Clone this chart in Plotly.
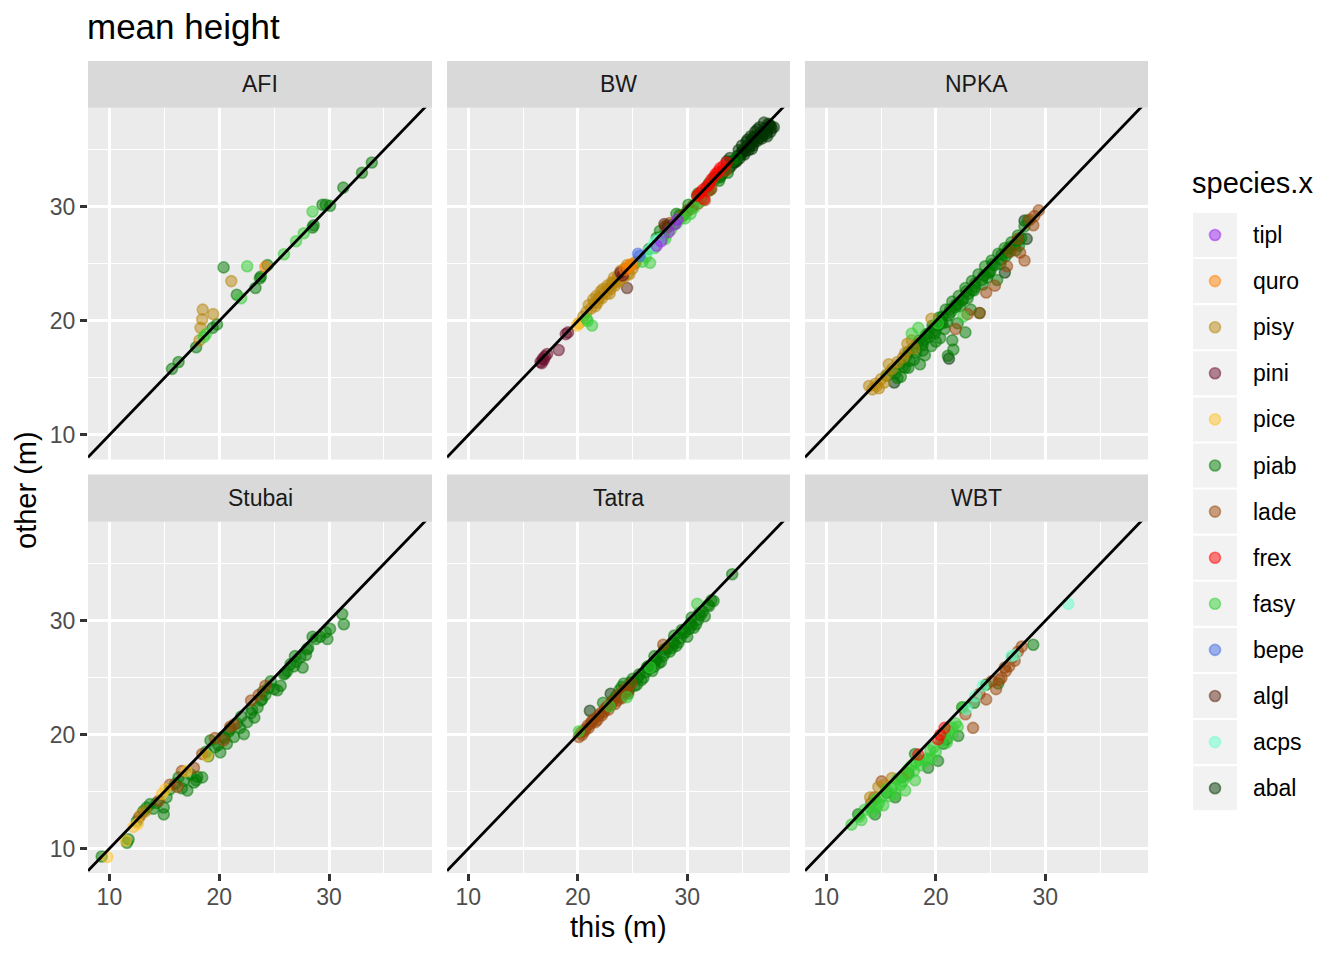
import plotly.graph_objects as go

# ---------------- data ----------------
species_order = ["tipl", "quro", "pisy", "pini", "pice", "piab", "lade",
                 "frex", "fasy", "bepe", "algl", "acps", "abal"]
species_colors = ["#9A20F0", "#FF7F00", "#B8860B", "#6B0F2B", "#FFC125", "#007A00",
                  "#9A4508", "#FF0000", "#32CD32", "#4169E1", "#5E2612", "#66FFCC", "#003300"]
draw_order = ["abal", "piab", "lade", "algl", "pisy", "pice", "fasy", "acps",
              "pini", "quro", "bepe", "tipl", "frex"]
panel_names = ["AFI", "BW", "NPKA", "Stubai", "Tatra", "WBT"]
tick_vals = [10, 20, 30]
X_RANGE = [8.05, 39.38]
Y_RANGE = [7.85, 38.71]

# AFI
afi_piab_x = [33.9, 33.0, 31.3, 29.4, 29.7, 30.1, 28.6, 28.5, 24.4, 23.7, 23.8, 23.3, 21.6, 20.4, 19.8, 19.4, 17.9, 16.3, 15.7]
afi_piab_y = [33.9, 33.0, 31.7, 30.2, 30.2, 30.1, 28.4, 28.2, 24.9, 23.75, 23.9, 22.9, 22.3, 24.7, 19.7, 19.4, 17.7, 16.4, 15.8]
afi_fasy_x = [28.5, 27.7, 27.0, 25.9, 22.55, 22.0, 18.8, 18.6]
afi_fasy_y = [29.6, 27.7, 27.0, 25.85, 24.8, 22.0, 18.85, 18.6]
afi_pisy_x = [21.1, 18.5, 19.45, 18.45, 18.3, 18.2]
afi_pisy_y = [23.5, 21.0, 20.6, 20.15, 19.4, 18.3]
afi_quro_x = [24.2]
afi_quro_y = [24.75]

# BW
bw_abal_x = [32.5, 33.0, 33.4, 33.8, 34.1, 34.4, 34.6, 34.9, 35.1, 35.3, 35.5, 35.7, 35.9, 36.1, 36.3,
             36.5, 36.7, 36.9, 37.1, 37.3, 37.5, 37.7, 37.9, 35.0, 35.4, 35.8, 36.2, 36.6, 37.0, 37.4,
             33.6, 34.0, 34.5, 34.8, 35.2, 35.6, 36.0, 36.4, 36.8, 37.2, 37.6, 36.0, 35.5,
             33.2, 34.3, 35.0, 35.9, 36.8, 37.6, 34.7, 36.4, 37.3, 33.9]
bw_abal_y = [32.6, 32.7, 33.2, 33.4, 34.0, 34.1, 34.5, 34.6, 35.0, 34.9, 35.4, 35.3, 35.8, 35.7, 36.2,
             36.0, 36.5, 36.4, 36.9, 36.7, 37.2, 36.9, 37.0, 35.4, 35.7, 36.2, 36.6, 37.0, 37.4, 37.3,
             34.0, 33.6, 34.0, 34.3, 34.6, 35.0, 35.4, 35.8, 36.2, 36.4, 36.6, 36.1, 35.9,
             32.9, 33.9, 34.8, 35.1, 36.0, 37.1, 35.0, 36.8, 36.2, 34.3]
bw_piab_x = [26.5, 27.2, 27.8, 28.3, 28.8, 29.3, 29.7, 30.1, 30.5, 30.9, 31.3, 31.7, 32.1, 32.5, 32.9,
             33.3, 33.7, 34.1, 29.0, 30.0, 31.0, 32.0, 33.0, 28.0, 27.5, 34.5]
bw_piab_y = [26.3, 27.3, 27.5, 28.4, 28.5, 29.3, 29.3, 30.2, 30.1, 31.0, 30.8, 31.7, 31.5, 32.4, 32.3,
             33.3, 33.0, 34.0, 29.4, 29.7, 31.2, 32.1, 32.6, 28.3, 27.9, 34.3]
bw_fasy_x = [20.8, 21.3, 20.9, 26.6, 27.8, 29.05, 29.4, 30.3, 28.5, 25.9, 27.0, 28.0, 29.8, 30.6, 31.2, 26.2]
bw_fasy_y = [20.2, 19.6, 20.0, 25.1, 27.3, 28.6, 29.0, 29.4, 28.0, 25.2, 26.4, 27.2, 29.0, 29.9, 30.5, 25.6]
bw_pisy_x = [20.1, 20.8, 21.2, 21.5, 21.8, 22.0, 22.2, 22.4, 22.6, 22.8, 23.0, 23.2, 23.4, 23.6, 23.8,
             24.0, 24.2, 24.4, 24.6, 24.8, 25.0, 25.2, 21.4, 22.1, 22.7, 23.3, 23.9, 24.5, 21.7, 23.1,
             21.0, 21.6, 22.3, 22.9, 23.5, 24.1, 24.7, 25.3, 20.5, 21.9, 23.7, 24.3]
bw_pisy_y = [19.8, 20.8, 21.1, 21.6, 21.6, 22.1, 22.0, 22.5, 22.4, 22.9, 22.8, 23.3, 23.1, 23.7, 23.5,
             24.1, 23.8, 24.5, 24.2, 24.9, 24.6, 25.0, 21.9, 22.6, 23.1, 23.8, 24.4, 24.9, 22.2, 23.4,
             21.4, 21.3, 22.8, 22.4, 23.4, 23.9, 24.1, 25.2, 20.4, 22.0, 24.0, 24.6]
bw_pini_x = [16.6, 16.8, 17.0, 17.2, 16.9, 16.7, 18.9, 19.1, 18.25, 23.9, 24.1]
bw_pini_y = [16.4, 16.7, 16.9, 17.1, 16.6, 16.3, 18.85, 19.0, 17.45, 24.25, 24.0]
bw_quro_x = [24.6, 24.9, 24.3]
bw_quro_y = [24.7, 25.0, 24.5]
bw_pice_x = [20.1, 19.9]
bw_pice_y = [19.8, 19.6]
bw_bepe_x = [25.65, 25.5]
bw_bepe_y = [25.7, 25.9]
bw_acps_x = [26.9, 27.5, 27.1, 26.5]
bw_acps_y = [26.7, 27.2, 27.0, 26.2]
bw_tipl_x = [27.2, 28.9, 29.1, 27.6, 28.3]
bw_tipl_y = [26.6, 28.5, 28.9, 27.0, 27.8]
bw_lade_x = [28.0, 28.4, 30.1, 31.6, 32.4, 32.9, 33.5, 29.5, 31.0, 31.9, 32.2, 30.5]
bw_lade_y = [28.3, 28.6, 29.7, 30.6, 32.6, 33.0, 33.2, 29.2, 30.3, 31.4, 31.6, 30.0]
bw_algl_x = [24.5, 27.9, 28.2]
bw_algl_y = [22.9, 28.5, 28.2]
bw_frex_x = [31.2, 31.8, 33.3, 32.8, 31.5, 32.2, 30.9, 31.4, 32.0, 32.6, 33.0, 33.6]
bw_frex_y = [31.25, 31.8, 33.6, 33.1, 30.7, 32.4, 31.0, 31.5, 32.0, 32.9, 33.4, 33.9]

# NPKA
npka_piab_x = [15.5, 16.0, 16.3, 16.7, 17.0, 17.3, 17.6, 17.9, 18.2, 18.5, 18.8, 19.1, 19.4, 19.7, 20.0,
               20.3, 20.6, 20.9, 21.2, 21.5, 21.8, 22.1, 22.4, 22.7, 23.0, 23.3, 23.6, 23.9, 24.2, 24.5,
               24.8, 25.1, 25.4, 25.7, 26.0, 26.3, 26.6, 26.9, 27.2, 27.5, 27.8, 28.1, 28.4, 21.1, 21.6,
               22.7, 18.55, 21.5, 24.0, 19.6, 20.4, 17.5, 23.2, 25.6, 27.6, 16.8, 19.0, 20.0, 22.0,
               16.5, 17.2, 18.0, 18.8, 19.3, 19.9, 20.5, 21.0, 21.4, 22.2, 22.9, 23.5, 24.3, 25.0, 25.9,
               26.6, 27.3, 20.8, 22.5, 24.7,
               17.5, 18.3, 19.0, 19.8, 20.6, 21.3, 22.0, 22.8, 23.6, 24.4, 25.2, 26.0, 26.8, 27.6, 18.7,
               20.2, 21.8, 23.3, 24.9, 26.4]
npka_piab_y = [15.2, 15.6, 15.4, 16.2, 16.0, 16.9, 16.5, 17.6, 17.2, 18.3, 17.9, 18.8, 18.6, 19.6, 19.2,
               20.3, 19.8, 21.0, 20.5, 21.7, 21.2, 22.2, 21.8, 22.9, 22.4, 23.5, 23.0, 24.1, 23.6, 24.8,
               24.2, 25.3, 24.9, 25.9, 25.4, 26.4, 26.0, 26.9, 26.7, 27.5, 27.3, 28.3, 28.8, 16.95, 17.5,
               19.0, 16.2, 18.3, 20.7, 17.8, 18.5, 15.9, 21.0, 23.6, 26.6, 15.1, 17.0, 18.2, 19.8,
               15.0, 15.9, 16.6, 17.4, 18.9, 18.9, 20.0, 19.9, 20.8, 21.3, 22.0, 22.7, 23.2, 24.4, 25.0,
               26.3, 26.2, 19.3, 21.9, 23.8,
               17.3, 18.0, 18.4, 19.4, 20.4, 21.0, 21.5, 22.6, 23.3, 24.0, 25.0, 25.8, 26.5, 27.1, 18.0,
               19.6, 21.4, 22.7, 24.3, 25.7]
npka_pisy_x = [13.9, 14.2, 14.5, 14.8, 15.0, 15.3, 15.7, 16.0, 17.4, 17.8, 18.0, 19.6, 17.2, 14.6, 15.5, 16.5, 17.0]
npka_pisy_y = [14.3, 14.0, 14.5, 14.1, 14.9, 14.6, 16.2, 15.8, 18.0, 18.3, 17.6, 20.2, 17.2, 14.3, 15.3, 16.4, 16.8]
npka_lade_x = [29.4, 29.0, 28.6, 28.1, 27.7, 26.5, 25.4, 24.0, 24.6, 28.9, 27.5, 26.8, 22.9, 21.8]
npka_lade_y = [29.7, 29.2, 28.9, 25.3, 26.0, 24.8, 23.1, 20.7, 22.5, 28.4, 27.2, 26.1, 20.6, 19.3]
npka_fasy_x = [18.4, 17.8, 22.5, 20.2]
npka_fasy_y = [19.4, 18.9, 20.4, 19.8]
npka_abal_x = [26.3, 28.1, 28.3, 16.2, 21.2]
npka_abal_y = [24.25, 28.8, 27.2, 14.6, 16.7]

# Stubai
stubai_piab_x = [31.2, 31.35, 29.7, 29.85, 28.8, 28.5, 27.4, 27.6, 26.8, 26.2, 25.6, 25.3, 24.7, 23.8, 23.5,
                 23.2, 22.55, 22.25, 21.35, 20.7, 20.1, 19.2, 18.45, 18.0, 17.7, 17.1, 16.3, 14.95, 14.95,
                 13.4, 13.1, 11.75, 11.6, 9.3, 26.9, 25.9, 24.2, 22.9, 21.9, 20.5, 19.6, 17.4, 16.8, 15.5,
                 14.3, 12.5, 28.1, 27.0, 23.9, 21.0,
                 30.1, 29.2, 27.9, 26.5, 25.0, 24.0, 22.0, 20.9, 19.9, 18.8, 16.0, 15.2, 13.7,
                 28.0, 26.0, 24.5, 23.0, 21.6, 20.3, 19.0, 17.9, 16.6, 14.0]
stubai_piab_y = [30.6, 29.7, 29.0, 28.4, 28.4, 28.6, 26.8, 25.9, 26.0, 25.6, 24.3, 23.9, 24.7, 23.0, 22.4,
                 21.5, 21.1, 20.05, 19.8, 19.2, 18.45, 19.5, 16.25, 16.3, 15.8, 15.1, 16.25, 13.6, 13.0,
                 13.6, 13.3, 10.8, 10.5, 9.3, 26.9, 25.3, 23.5, 21.9, 20.6, 19.7, 18.9, 16.5, 16.0, 15.2,
                 14.0, 12.4, 27.6, 26.4, 23.1, 20.5,
                 29.3, 28.6, 27.0, 26.2, 24.0, 23.8, 21.6, 20.3, 19.1, 18.5, 15.7, 14.5, 13.9,
                 27.5, 25.4, 24.1, 22.2, 21.0, 19.8, 18.1, 16.0, 15.3, 13.5]
stubai_lade_x = [24.2, 22.9, 21.35, 21.0, 20.4, 18.45, 17.7, 16.6, 16.2, 14.5, 12.7, 23.6, 19.6, 15.5]
stubai_lade_y = [24.3, 23.0, 20.9, 20.7, 19.5, 18.3, 17.1, 16.8, 15.4, 14.2, 12.75, 23.5, 19.7, 15.6]
stubai_pice_x = [18.9, 15.1, 14.8, 12.2, 11.5, 9.8, 12.6, 17.0]
stubai_pice_y = [18.15, 15.2, 14.8, 11.9, 10.7, 9.25, 12.2, 16.8]
stubai_pisy_x = [13.3, 12.9]
stubai_pisy_y = [13.3, 13.0]

# Tatra
tatra_piab_x = [22.3, 23.5, 24.0, 24.4, 24.8, 25.2, 25.6, 26.0, 26.4, 26.8, 27.2, 27.6, 28.0, 28.4, 28.8,
                29.2, 29.6, 30.0, 30.4, 30.8, 31.2, 31.6, 32.0, 32.4, 34.1, 25.4, 26.2, 27.0, 27.8, 28.6,
                29.4, 30.2, 31.0, 24.6, 23.2,
                25.8, 26.6, 27.4, 28.2, 29.0, 29.8, 30.6, 31.4, 32.2, 25.0, 24.2, 23.8, 27.0, 28.8, 30.4,
                23.0, 23.9, 24.7, 25.5, 26.3, 27.1, 27.9, 28.7, 29.5, 30.3, 31.1, 31.9]
tatra_piab_y = [22.8, 23.4, 24.2, 23.8, 24.6, 24.3, 25.3, 25.0, 26.0, 25.6, 26.6, 26.4, 27.2, 27.3, 28.0,
                28.1, 28.9, 28.6, 29.6, 29.7, 30.5, 30.4, 31.3, 31.75, 34.1, 24.4, 25.5, 26.0, 26.9, 27.6,
                28.5, 29.3, 30.1, 23.6, 23.0,
                24.8, 25.8, 26.3, 27.6, 27.8, 29.0, 29.4, 30.8, 31.8, 24.9, 24.5, 23.9, 26.9, 28.7, 30.3,
                22.6, 23.3, 24.0, 25.0, 25.9, 26.5, 27.5, 28.2, 29.2, 29.8, 30.7, 31.4]
tatra_lade_x = [20.1, 20.4, 20.7, 21.0, 21.3, 21.6, 21.9, 22.2, 22.5, 22.8, 23.1, 23.4, 23.7, 24.0, 24.3,
                24.6, 20.3, 20.9, 21.5, 22.1, 22.7, 27.8, 24.9, 20.6, 21.2, 21.8, 22.4, 23.0, 23.6, 24.2]
tatra_lade_y = [19.8, 20.0, 20.5, 20.6, 21.2, 21.1, 21.7, 21.7, 22.3, 22.2, 22.9, 22.7, 23.5, 23.2, 24.0,
                23.8, 20.2, 20.8, 21.4, 21.9, 22.5, 27.9, 24.5, 20.3, 21.0, 21.3, 22.0, 22.6, 23.0, 23.7]
tatra_fasy_x = [20.1, 24.5, 30.9, 22.9, 26.6]
tatra_fasy_y = [20.3, 23.3, 31.5, 22.5, 25.9]
tatra_abal_x = [21.1, 23.0]
tatra_abal_y = [22.1, 23.6]

# WBT
wbt_acps_x = [32.1, 26.9, 24.3, 22.8, 23.6, 27.2]
wbt_acps_y = [31.5, 26.9, 24.3, 22.25, 23.4, 27.0]
wbt_lade_x = [27.85, 27.2, 26.3, 25.1, 24.6, 23.4, 22.7, 14.4, 14.1, 15.05, 26.0, 25.5, 24.0, 27.5, 26.7,
              26.4, 25.8, 27.0]
wbt_lade_y = [27.75, 26.5, 25.9, 24.7, 23.1, 20.6, 21.8, 14.5, 14.0, 15.9, 25.0, 24.0, 23.6, 27.3, 26.0,
              25.6, 24.8, 26.8]
wbt_piab_x = [28.9, 25.7, 22.4, 22.05, 20.2, 19.3, 18.1, 16.9, 16.3, 14.45, 12.9, 21.0, 23.5, 24.6, 17.5, 15.5, 20.7]
wbt_piab_y = [27.9, 24.5, 22.4, 19.9, 17.7, 17.1, 18.3, 16.25, 14.5, 13.0, 13.0, 19.6, 22.8, 24.4, 16.6, 14.9, 19.2]
wbt_frex_x = [18.4, 20.2, 20.8, 20.4]
wbt_frex_y = [18.25, 19.6, 20.6, 20.0]
wbt_fasy_x = [12.3, 13.0, 13.5, 14.0, 14.5, 15.0, 15.5, 16.0, 16.5, 17.0, 17.5, 18.0, 18.5, 19.0, 19.5,
              20.0, 20.5, 21.0, 21.5, 22.0, 22.5, 17.2, 18.1, 19.6, 16.3, 15.2, 14.2, 20.8, 21.8, 17.8,
              13.2, 14.8, 16.2, 17.4, 18.6, 19.8, 21.2, 15.8, 18.2, 14.6, 16.8, 19.2, 21.5]
wbt_fasy_y = [12.1, 12.8, 13.4, 13.6, 14.3, 14.5, 15.2, 15.3, 16.1, 15.9, 17.0, 16.8, 17.8, 17.7, 18.6,
              18.5, 19.5, 19.3, 20.6, 20.7, 22.4, 15.1, 16.0, 17.9, 14.8, 13.8, 13.2, 20.1, 21.0, 17.3,
              12.5, 14.0, 15.6, 16.4, 17.3, 18.9, 20.3, 14.6, 17.6, 13.6, 15.6, 17.9, 20.0]
wbt_pisy_x = [14.0, 14.75, 16.0, 17.3, 15.3]
wbt_pisy_y = [14.5, 15.4, 16.2, 16.7, 15.6]

PANEL_DATA = [
    {"piab": (afi_piab_x, afi_piab_y), "fasy": (afi_fasy_x, afi_fasy_y),
     "pisy": (afi_pisy_x, afi_pisy_y), "quro": (afi_quro_x, afi_quro_y)},
    {"abal": (bw_abal_x, bw_abal_y), "piab": (bw_piab_x, bw_piab_y), "fasy": (bw_fasy_x, bw_fasy_y),
     "pisy": (bw_pisy_x, bw_pisy_y), "pini": (bw_pini_x, bw_pini_y), "quro": (bw_quro_x, bw_quro_y),
     "pice": (bw_pice_x, bw_pice_y), "bepe": (bw_bepe_x, bw_bepe_y), "acps": (bw_acps_x, bw_acps_y),
     "tipl": (bw_tipl_x, bw_tipl_y), "lade": (bw_lade_x, bw_lade_y), "algl": (bw_algl_x, bw_algl_y),
     "frex": (bw_frex_x, bw_frex_y)},
    {"piab": (npka_piab_x, npka_piab_y), "pisy": (npka_pisy_x, npka_pisy_y),
     "lade": (npka_lade_x, npka_lade_y), "fasy": (npka_fasy_x, npka_fasy_y),
     "abal": (npka_abal_x, npka_abal_y)},
    {"piab": (stubai_piab_x, stubai_piab_y), "lade": (stubai_lade_x, stubai_lade_y),
     "pice": (stubai_pice_x, stubai_pice_y), "pisy": (stubai_pisy_x, stubai_pisy_y)},
    {"piab": (tatra_piab_x, tatra_piab_y), "lade": (tatra_lade_x, tatra_lade_y),
     "fasy": (tatra_fasy_x, tatra_fasy_y), "abal": (tatra_abal_x, tatra_abal_y)},
    {"acps": (wbt_acps_x, wbt_acps_y), "lade": (wbt_lade_x, wbt_lade_y), "piab": (wbt_piab_x, wbt_piab_y),
     "frex": (wbt_frex_x, wbt_frex_y), "fasy": (wbt_fasy_x, wbt_fasy_y), "pisy": (wbt_pisy_x, wbt_pisy_y)},
]

# ---------------- styling / layout ----------------
W, H = 1344, 960
FONT = "Liberation Sans, Arial, sans-serif"
MARKER_SIZE = 11
MARKER_LINE = 1.6
col_px = [(88, 432), (447, 790), (805, 1148)]
row_px = [(107.7, 459.5), (521.7, 873)]
strip_px = [(61, 107.7), (474.5, 521.7)]


def rgba(hexc, a):
    h = hexc.lstrip("#")
    return f"rgba({int(h[0:2],16)},{int(h[2:4],16)},{int(h[4:6],16)},{a})"


color_map = dict(zip(species_order, species_colors))
fig = go.Figure()
shapes, annotations = [], []
layout_axes = {}

for i, name in enumerate(panel_names):
    r, c = divmod(i, 3)
    n = i + 1
    xref = "x" if n == 1 else f"x{n}"
    yref = "y" if n == 1 else f"y{n}"
    x0, x1 = col_px[c]
    y0, y1 = row_px[r]
    xd = [x0 / W, x1 / W]
    yd = [1 - y1 / H, 1 - y0 / H]
    show_x = (r == 1)
    show_y = (c == 0)
    common = dict(showline=False, zeroline=False, showgrid=True, gridcolor="white", gridwidth=2.8,
                  tickmode="array", tickvals=tick_vals, ticklen=7, tickwidth=2.8, tickcolor="#333333",
                  tickfont=dict(family=FONT, size=23, color="#4D4D4D"),
                  minor=dict(tickmode="array", tickvals=[15, 25, 35], showgrid=True,
                             gridcolor="white", gridwidth=1.4, ticks=""),
                  fixedrange=True)
    layout_axes["xaxis" + ("" if n == 1 else str(n))] = dict(
        common, domain=xd, range=X_RANGE, anchor=yref, ticklabelstandoff=-4,
        ticks="outside" if show_x else "", showticklabels=show_x)
    layout_axes["yaxis" + ("" if n == 1 else str(n))] = dict(
        common, domain=yd, range=Y_RANGE, anchor=xref,
        ticks="outside" if show_y else "", showticklabels=show_y)
    # panel background
    shapes.append(dict(type="rect", xref="paper", yref="paper", x0=xd[0], x1=xd[1], y0=yd[0], y1=yd[1],
                       fillcolor="#EBEBEB", line=dict(width=0), layer="below"))
    # strip
    s0, s1 = strip_px[r]
    shapes.append(dict(type="rect", xref="paper", yref="paper", x0=xd[0], x1=xd[1],
                       y0=1 - s1 / H, y1=1 - s0 / H, fillcolor="#D9D9D9", line=dict(width=0), layer="below"))
    annotations.append(dict(text=name, xref="paper", yref="paper", x=(xd[0] + xd[1]) / 2,
                            y=1 - (s0 + s1) / 2 / H, showarrow=False, xanchor="center", yanchor="middle",
                            font=dict(family=FONT, size=23, color="#1A1A1A")))
    data = PANEL_DATA[i]
    for sp in draw_order:
        if sp not in data:
            continue
        xs, ys = data[sp]
        col = color_map[sp]
        fig.add_trace(go.Scatter(x=xs, y=ys, mode="markers", xaxis=xref, yaxis=yref, name=sp,
                                 marker=dict(size=MARKER_SIZE, color=rgba(col, 0.5),
                                             line=dict(width=MARKER_LINE, color=rgba(col, 0.5))),
                                 hoverinfo="skip", showlegend=False))
    # identity line y = x
    fig.add_trace(go.Scatter(x=X_RANGE, y=X_RANGE, mode="lines", xaxis=xref, yaxis=yref,
                             line=dict(color="black", width=2.8), hoverinfo="skip", showlegend=False))

# legend (manual, ggplot style)
LEG_X_KEY = 1215
LEG_Y0 = 235
LEG_STEP = 46.1
leg_y = [LEG_Y0 + LEG_STEP * k for k in range(len(species_order))]
for k, sp in enumerate(species_order):
    shapes.append(dict(type="rect", xref="paper", yref="paper",
                       x0=1193 / W, x1=1237 / W, y0=1 - (leg_y[k] + 22) / H, y1=1 - (leg_y[k] - 22) / H,
                       fillcolor="#F2F2F2", line=dict(width=0), layer="below"))
    annotations.append(dict(text=sp, xref="paper", yref="paper", x=1251 / W, y=1 - leg_y[k] / H,
                            showarrow=False, xanchor="left", yanchor="middle",
                            font=dict(family=FONT, size=23, color="#000000")))
fig.add_trace(go.Scatter(x=[LEG_X_KEY] * len(species_order), y=leg_y, mode="markers",
                         xaxis="x7", yaxis="y7",
                         marker=dict(size=MARKER_SIZE, color=[rgba(c, 0.5) for c in species_colors],
                                     line=dict(width=MARKER_LINE, color=[rgba(c, 0.5) for c in species_colors])),
                         hoverinfo="skip", showlegend=False))
layout_axes["xaxis7"] = dict(domain=[0, 1], range=[0, W], visible=False, anchor="y7", fixedrange=True)
layout_axes["yaxis7"] = dict(domain=[0, 1], range=[H, 0], visible=False, anchor="x7", fixedrange=True)

annotations.append(dict(text="species.x", xref="paper", yref="paper", x=1190 / W, y=1 - 183 / H,
                        showarrow=False, xanchor="left", yanchor="middle",
                        font=dict(family=FONT, size=29, color="#000000")))
# titles
annotations.append(dict(text="mean height", xref="paper", yref="paper", x=85 / W, y=1 - 27 / H,
                        showarrow=False, xanchor="left", yanchor="middle",
                        font=dict(family=FONT, size=35, color="#000000")))
annotations.append(dict(text="this (m)", xref="paper", yref="paper", x=618 / W, y=1 - 927 / H,
                        showarrow=False, xanchor="center", yanchor="middle",
                        font=dict(family=FONT, size=29, color="#000000")))
annotations.append(dict(text="other (m)", xref="paper", yref="paper", x=26 / W, y=1 - 490 / H,
                        showarrow=False, xanchor="center", yanchor="middle", textangle=-90,
                        font=dict(family=FONT, size=29, color="#000000")))

fig.update_layout(width=W, height=H, margin=dict(l=0, r=0, t=0, b=0),
                  paper_bgcolor="white", plot_bgcolor="rgba(0,0,0,0)",
                  showlegend=False, hovermode=False, shapes=shapes, annotations=annotations,
                  font=dict(family=FONT), **layout_axes)
fig.write_html("out.html")
